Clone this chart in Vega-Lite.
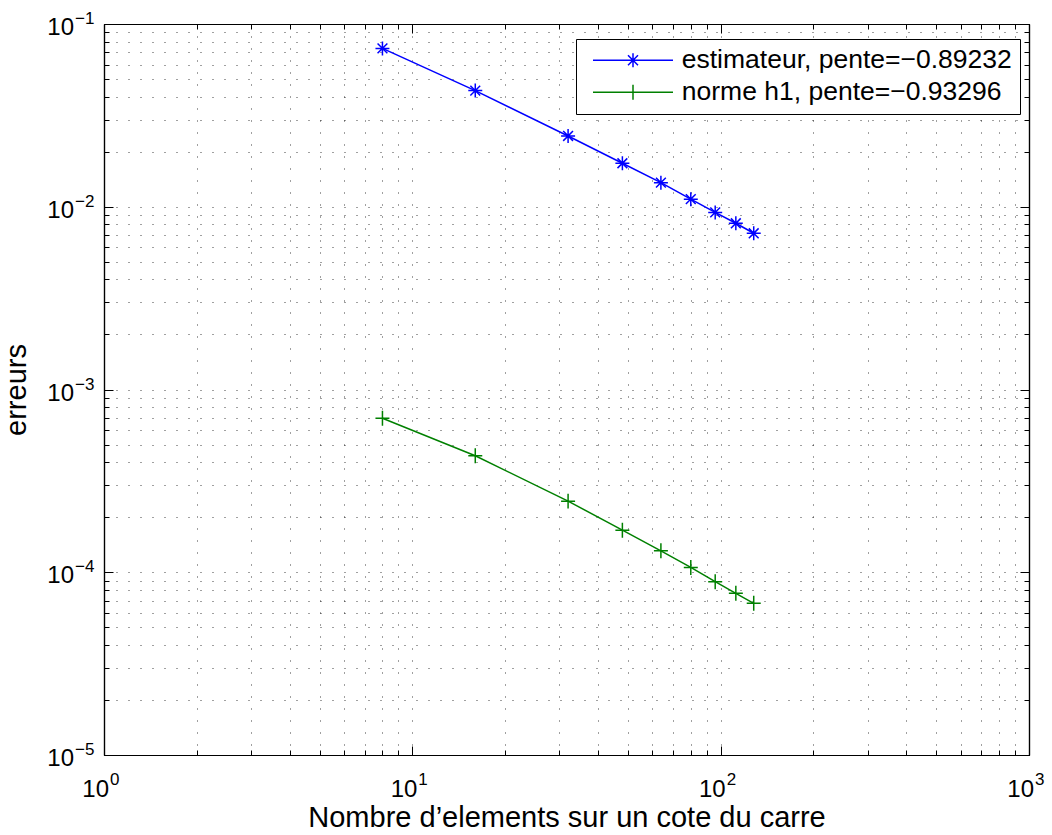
{
  "$schema": "https://vega.github.io/schema/vega-lite/v6.json",
  "width": 925,
  "height": 731,
  "autosize": {"type": "none"},
  "padding": {"left": 104, "top": 24, "right": 23, "bottom": 80},
  "background": "white",
  "datasets": {
    "err": [
      {"n": 8, "err": 0.0735, "serie": "estimateur, pente=−0.89232"},
      {"n": 16, "err": 0.0432, "serie": "estimateur, pente=−0.89232"},
      {"n": 32, "err": 0.0244, "serie": "estimateur, pente=−0.89232"},
      {"n": 48, "err": 0.0173, "serie": "estimateur, pente=−0.89232"},
      {"n": 64, "err": 0.01355, "serie": "estimateur, pente=−0.89232"},
      {"n": 80, "err": 0.011, "serie": "estimateur, pente=−0.89232"},
      {"n": 96, "err": 0.00931, "serie": "estimateur, pente=−0.89232"},
      {"n": 112, "err": 0.00812, "serie": "estimateur, pente=−0.89232"},
      {"n": 128, "err": 0.00716, "serie": "estimateur, pente=−0.89232"},
      {"n": 8, "err": 0.000696, "serie": "norme h1, pente=−0.93296"},
      {"n": 16, "err": 0.000434, "serie": "norme h1, pente=−0.93296"},
      {"n": 32, "err": 0.000245, "serie": "norme h1, pente=−0.93296"},
      {"n": 48, "err": 0.00017, "serie": "norme h1, pente=−0.93296"},
      {"n": 64, "err": 0.000131, "serie": "norme h1, pente=−0.93296"},
      {"n": 80, "err": 0.0001063, "serie": "norme h1, pente=−0.93296"},
      {"n": 96, "err": 0.0000888, "serie": "norme h1, pente=−0.93296"},
      {"n": 112, "err": 0.0000767, "serie": "norme h1, pente=−0.93296"},
      {"n": 128, "err": 0.0000676, "serie": "norme h1, pente=−0.93296"}
    ],
    "xt": [
      {"v": 1, "e": "0"},
      {"v": 10, "e": "1"},
      {"v": 100, "e": "2"},
      {"v": 1000, "e": "3"}
    ],
    "yt": [
      {"v": 0.00001, "e": "−5"},
      {"v": 0.0001, "e": "−4"},
      {"v": 0.001, "e": "−3"},
      {"v": 0.01, "e": "−2"},
      {"v": 0.1, "e": "−1"}
    ]
  },
  "layer": [
    {
      "data": {"name": "err"},
      "mark": {"type": "line", "strokeWidth": 1.5},
      "encoding": {
        "x": {
          "field": "n", "type": "quantitative",
          "scale": {"type": "log", "domain": [1, 1000], "nice": false},
          "axis": {
            "orient": "bottom",
            "values": [1,2,3,4,5,6,7,8,9,10,20,30,40,50,60,70,80,90,100,200,300,400,500,600,700,800,900,1000],
            "tickSize": -5, "grid": true,
            "title": "Nombre d’elements sur un cote du carre",
            "titleY": 71, "titleBaseline": "alphabetic"
          }
        },
        "y": {
          "field": "err", "type": "quantitative",
          "scale": {"type": "log", "domain": [0.00001, 0.1], "nice": false},
          "axis": {
            "orient": "left",
            "values": [0.00001,0.00002,0.00003,0.00004,0.00005,0.00006,0.00007,0.00008,0.00009,0.0001,0.0002,0.0003,0.0004,0.0005,0.0006,0.0007,0.0008,0.0009,0.001,0.002,0.003,0.004,0.005,0.006,0.007,0.008,0.009,0.01,0.02,0.03,0.04,0.05,0.06,0.07,0.08,0.09,0.1],
            "tickSize": -5, "grid": true,
            "title": "erreurs",
            "titleX": -79, "titleY": 365.5, "titleAngle": -90, "titleBaseline": "alphabetic", "titleAlign": "center"
          }
        },
        "color": {
          "field": "serie", "type": "nominal",
          "scale": {"domain": ["estimateur, pente=−0.89232", "norme h1, pente=−0.93296"], "range": ["#0000ff", "#008000"]},
          "legend": {
            "orient": "none", "legendX": 472, "legendY": 15, "title": null,
            "symbolSize": 400, "symbolStrokeWidth": 1.5, "symbolOffset": 35.75, "labelOffset": 35.5,
            "labelFont": "Liberation Sans", "labelFontSize": 26.5, "labelColor": "black", "labelLimit": 800,
            "padding": 8, "rowPadding": 5,
            "strokeColor": "black", "fillColor": "white", "cornerRadius": 0,
            "encode": {
              "symbols": {
                "update": {
                  "shape": {"signal": "indexof(datum.value, 'estim') === 0 ? 'M-4,0L4,0M-0.7,0L0.7,0M0,-0.7L0,0.7M-0.5,-0.5L0.5,0.5M-0.5,0.5L0.5,-0.5' : 'M-4,0L4,0M0,-0.75L0,0.75'"},
                  "fill": {"value": "transparent"}
                }
              }
            }
          }
        }
      }
    },
    {
      "data": {"name": "err"},
      "transform": [{"filter": "indexof(datum.serie, 'estim') === 0"}],
      "mark": {"type": "point", "filled": false, "strokeWidth": 1.5, "size": 196, "opacity": 1, "color": "#0000ff",
               "shape": "M-1,0L1,0M0,-1L0,1M-0.7,-0.7L0.7,0.7M-0.7,0.7L0.7,-0.7"},
      "encoding": {
        "x": {
          "field": "n", "type": "quantitative",
          "scale": {"type": "log", "domain": [1, 1000], "nice": false},
          "axis": {"orient": "bottom", "values": [1, 10, 100, 1000], "tickSize": -9, "grid": false, "title": null}
        },
        "y": {
          "field": "err", "type": "quantitative",
          "scale": {"type": "log", "domain": [0.00001, 0.1], "nice": false},
          "axis": {"orient": "left", "values": [0.00001, 0.0001, 0.001, 0.01, 0.1], "tickSize": -9, "grid": false, "title": null}
        }
      }
    },
    {
      "data": {"name": "err"},
      "transform": [{"filter": "indexof(datum.serie, 'norme') === 0"}],
      "mark": {"type": "point", "filled": false, "strokeWidth": 1.5, "size": 196, "opacity": 1, "color": "#008000",
               "shape": "M-1,0L1,0M0,-1.07L0,1.07"},
      "encoding": {
        "x": {
          "field": "n", "type": "quantitative",
          "scale": {"type": "log", "domain": [1, 1000], "nice": false},
          "axis": {
            "orient": "top",
            "values": [1,2,3,4,5,6,7,8,9,10,20,30,40,50,60,70,80,90,100,200,300,400,500,600,700,800,900,1000],
            "tickSize": -5, "grid": false, "title": null
          }
        },
        "y": {
          "field": "err", "type": "quantitative",
          "scale": {"type": "log", "domain": [0.00001, 0.1], "nice": false},
          "axis": {
            "orient": "right",
            "values": [0.00001,0.00002,0.00003,0.00004,0.00005,0.00006,0.00007,0.00008,0.00009,0.0001,0.0002,0.0003,0.0004,0.0005,0.0006,0.0007,0.0008,0.0009,0.001,0.002,0.003,0.004,0.005,0.006,0.007,0.008,0.009,0.01,0.02,0.03,0.04,0.05,0.06,0.07,0.08,0.09,0.1],
            "tickSize": -5, "grid": false, "title": null
          }
        }
      }
    },
    {
      "data": {"name": "err"},
      "mark": {"type": "point", "opacity": 0},
      "encoding": {
        "x": {
          "field": "n", "type": "quantitative",
          "scale": {"type": "log", "domain": [1, 1000], "nice": false},
          "axis": {"orient": "top", "values": [1, 10, 100, 1000], "tickSize": -9, "grid": false, "title": null}
        },
        "y": {
          "field": "err", "type": "quantitative",
          "scale": {"type": "log", "domain": [0.00001, 0.1], "nice": false},
          "axis": {"orient": "right", "values": [0.00001, 0.0001, 0.001, 0.01, 0.1], "tickSize": -9, "grid": false, "title": null}
        }
      }
    },
    {
      "data": {"name": "xt"},
      "mark": {"type": "text", "text": "10", "font": "Liberation Sans", "fontSize": 24, "align": "right", "baseline": "alphabetic", "dx": 5, "dy": 42, "color": "black"},
      "encoding": {
        "x": {"field": "v", "type": "quantitative", "scale": {"type": "log", "domain": [1, 1000], "nice": false}, "axis": null},
        "y": {"datum": 0.00001, "type": "quantitative", "scale": {"type": "log", "domain": [0.00001, 0.1], "nice": false}, "axis": null}
      }
    },
    {
      "data": {"name": "xt"},
      "mark": {"type": "text", "font": "Liberation Sans", "fontSize": 17, "align": "left", "baseline": "alphabetic", "dx": 6, "dy": 30, "color": "black"},
      "encoding": {
        "x": {"field": "v", "type": "quantitative", "scale": {"type": "log", "domain": [1, 1000], "nice": false}, "axis": null},
        "y": {"datum": 0.00001, "type": "quantitative", "scale": {"type": "log", "domain": [0.00001, 0.1], "nice": false}, "axis": null},
        "text": {"field": "e"}
      }
    },
    {
      "data": {"name": "yt"},
      "mark": {"type": "text", "text": "10", "font": "Liberation Sans", "fontSize": 24, "align": "right", "baseline": "alphabetic", "dx": -30, "dy": 11, "color": "black"},
      "encoding": {
        "x": {"datum": 1, "type": "quantitative", "scale": {"type": "log", "domain": [1, 1000], "nice": false}, "axis": null},
        "y": {"field": "v", "type": "quantitative", "scale": {"type": "log", "domain": [0.00001, 0.1], "nice": false}, "axis": null}
      }
    },
    {
      "data": {"name": "yt"},
      "mark": {"type": "text", "font": "Liberation Sans", "fontSize": 17, "align": "left", "baseline": "alphabetic", "dx": -29, "dy": 0, "color": "black"},
      "encoding": {
        "x": {"datum": 1, "type": "quantitative", "scale": {"type": "log", "domain": [1, 1000], "nice": false}, "axis": null},
        "y": {"field": "v", "type": "quantitative", "scale": {"type": "log", "domain": [0.00001, 0.1], "nice": false}, "axis": null},
        "text": {"field": "e"}
      }
    }
  ],
  "resolve": {"axis": {"x": "independent", "y": "independent"}},
  "config": {
    "view": {"stroke": null},
    "axis": {
      "labels": false,
      "domainColor": "black", "domainWidth": 1.2,
      "tickColor": "black", "tickWidth": 1,
      "gridColor": "black", "gridDash": [1, 11], "gridOpacity": 0.75, "gridWidth": 1,
      "titleFont": "Liberation Sans", "titleFontSize": 29, "titleFontWeight": "normal", "titleColor": "black"
    }
  }
}
